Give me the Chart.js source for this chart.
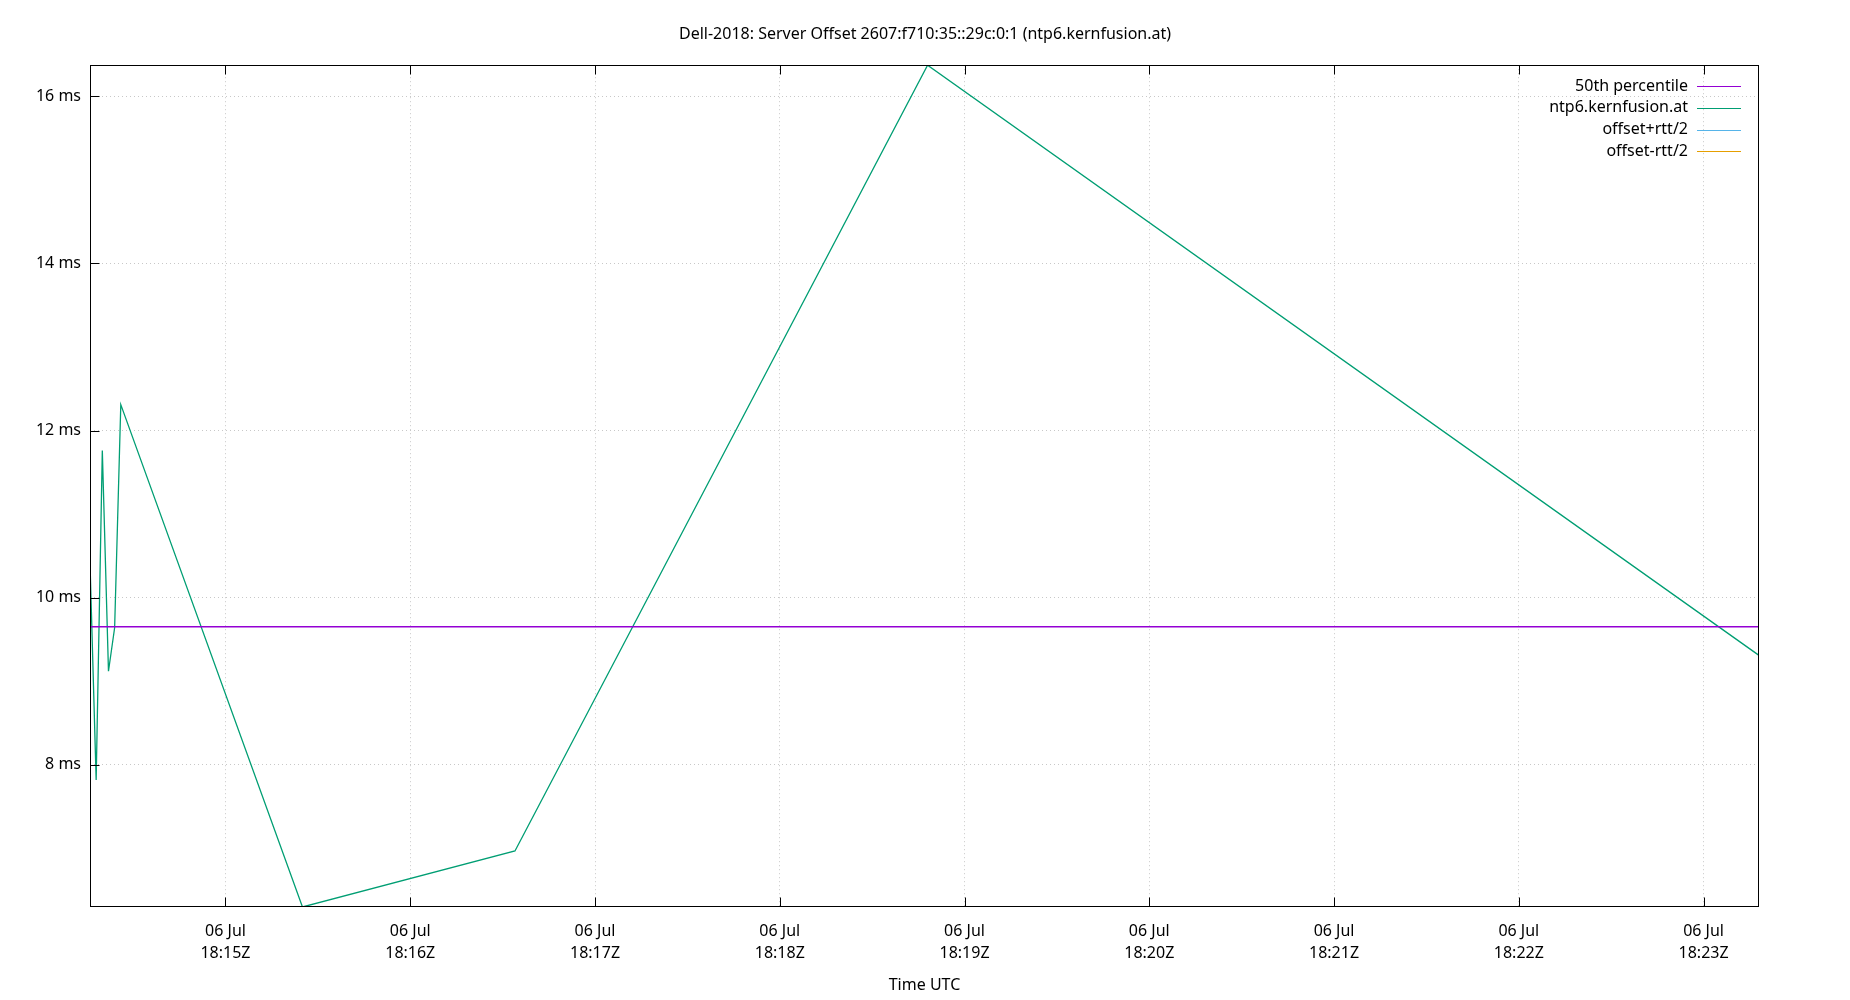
<!DOCTYPE html>
<html>
<head>
<meta charset="utf-8">
<title>Dell-2018: Server Offset</title>
<script src="https://cdn.jsdelivr.net/npm/chart.js@4/dist/chart.umd.min.js"></script>
<style>
  html, body { margin: 0; padding: 0; background: #fff; }
  #wrap { width: 1850px; height: 1000px; }
</style>
</head>
<body>
<div id="wrap"><canvas id="grafico"></canvas></div>
<script>
// ===== DATOS =====
const titulo = 'Dell-2018: Server Offset 2607:f710:35::29c:0:1 (ntp6.kernfusion.at)';

// muestras (hora UTC) y offset en ms
const horas = ['18:14:16', '18:14:18', '18:14:20', '18:14:22', '18:14:24', '18:14:26',
               '18:15:25', '18:16:34', '18:18:48', '18:23:18'];
const offsetMs = [10.42, 7.82, 11.76, 9.12, 9.64, 12.31, 6.30, 6.97, 16.37, 9.31];

const percentil50 = 9.653;

// series sin datos visibles (solo leyenda)
const offsetMasRtt = [];
const offsetMenosRtt = [];

// marcas de ejes
const xTicksHoras = ['18:15', '18:16', '18:17', '18:18', '18:19', '18:20', '18:21', '18:22', '18:23'];
const xTickFecha = '06 Jul';
const yTicks = [8, 10, 12, 14, 16];

const FUENTE = '"Noto Sans", "Open Sans", sans-serif';

function aSegundos(h) {
    const p = h.split(':').map(Number);
    return p[0] * 3600 + p[1] * 60 + (p[2] || 0);
}

const puntos = horas.map((h, i) => ({ x: aSegundos(h), y: offsetMs[i] }));
const xMin = puntos[0].x;
const xMax = puntos[puntos.length - 1].x;

// ===== PLUGIN: marco y marcas de eje (estilo gnuplot) =====
const marcoPlugin = {
    id: 'marco',
    afterDraw(chart) {
        const { ctx, chartArea: a, scales } = chart;
        const L = Math.round(a.left) + 0.5, R = Math.round(a.right) - 0.5;
        const T = Math.round(a.top) + 0.5, B = Math.round(a.bottom) - 0.5;
        ctx.save();
        ctx.strokeStyle = '#000';
        ctx.lineWidth = 1;
        ctx.beginPath();
        scales.x.ticks.forEach(t => {
            const px = Math.round(scales.x.getPixelForValue(t.value)) + 0.5;
            ctx.moveTo(px, B); ctx.lineTo(px, B - 9);
            ctx.moveTo(px, T); ctx.lineTo(px, T + 9);
        });
        scales.y.ticks.forEach(t => {
            const py = Math.round(scales.y.getPixelForValue(t.value)) + 0.5;
            ctx.moveTo(L, py); ctx.lineTo(L + 9, py);
        });
        ctx.stroke();
        ctx.strokeRect(L, T, R - L, B - T);
        ctx.restore();
    }
};

// ===== PLUGIN: leyenda arriba a la derecha =====
const leyendaPlugin = {
    id: 'leyenda',
    afterDraw(chart) {
        const { ctx, chartArea: a } = chart;
        ctx.save();
        ctx.font = '16px ' + FUENTE;
        ctx.textAlign = 'right';
        ctx.textBaseline = 'middle';
        chart.data.datasets.forEach((ds, i) => {
            const y = a.top + 21 + i * 21.7;
            ctx.fillStyle = '#000';
            ctx.fillText(ds.label, a.right - 71, y);
            ctx.strokeStyle = ds.borderColor;
            ctx.lineWidth = 1.2;
            ctx.beginPath();
            ctx.moveTo(a.right - 62, Math.round(y) + 0.5);
            ctx.lineTo(a.right - 18, Math.round(y) + 0.5);
            ctx.stroke();
        });
        ctx.restore();
    }
};

// ===== GRÁFICO =====
document.addEventListener('DOMContentLoaded', function () {
    const ctx = document.getElementById('grafico').getContext('2d');
    new Chart(ctx, {
        type: 'line',
        data: {
            datasets: [
                {
                    label: '50th percentile',
                    data: [{ x: xMin, y: percentil50 }, { x: xMax, y: percentil50 }],
                    borderColor: '#9400d3',
                    borderWidth: 1.6,
                    pointRadius: 0
                },
                {
                    label: 'ntp6.kernfusion.at',
                    data: puntos,
                    borderColor: '#009e73',
                    borderWidth: 1.3,
                    pointRadius: 0,
                    tension: 0
                },
                {
                    label: 'offset+rtt/2',
                    data: offsetMasRtt,
                    borderColor: '#56b4e9',
                    borderWidth: 1.3,
                    pointRadius: 0
                },
                {
                    label: 'offset-rtt/2',
                    data: offsetMenosRtt,
                    borderColor: '#e69f00',
                    borderWidth: 1.3,
                    pointRadius: 0
                }
            ]
        },
        options: {
            responsive: true,
            maintainAspectRatio: false,
            animation: false,
            layout: { padding: 0 },
            plugins: {
                legend: { display: false },
                tooltip: { enabled: false },
                title: {
                    display: true,
                    text: titulo,
                    color: '#000',
                    font: { family: FUENTE, size: 16, weight: 'normal', lineHeight: 1.2 },
                    padding: { top: 25, bottom: 21 }
                }
            },
            scales: {
                x: {
                    type: 'linear',
                    min: xMin,
                    max: xMax,
                    afterFit(scale) { scale.height = 93; },
                    afterBuildTicks(scale) {
                        scale.ticks = xTicksHoras.map(h => ({ value: aSegundos(h) }));
                    },
                    ticks: {
                        color: '#000',
                        padding: 14,
                        maxRotation: 0,
                        autoSkip: false,
                        font: { family: FUENTE, size: 16, lineHeight: 1.35 },
                        callback: function (value) {
                            const i = xTicksHoras.findIndex(h => aSegundos(h) === value);
                            return [xTickFecha, xTicksHoras[i] + 'Z'];
                        }
                    },
                    grid: { color: '#c8c8c8', lineWidth: 1, drawTicks: false },
                    border: { display: false, dash: [1, 3] },
                    title: {
                        display: true,
                        text: 'Time UTC',
                        color: '#000',
                        font: { family: FUENTE, size: 16, lineHeight: 1.2 },
                        padding: { top: 0, bottom: 5 }
                    }
                },
                y: {
                    type: 'linear',
                    min: Math.min(...offsetMs),
                    max: Math.max(...offsetMs),
                    afterFit(scale) { scale.width = 90; },
                    afterBuildTicks(scale) {
                        scale.ticks = yTicks.map(v => ({ value: v }));
                    },
                    ticks: {
                        color: '#000',
                        padding: 9,
                        font: { family: FUENTE, size: 16 },
                        callback: v => v + ' ms'
                    },
                    grid: { color: '#c8c8c8', lineWidth: 1, drawTicks: false },
                    border: { display: false, dash: [1, 3] }
                },
                // margen derecho vacío (mantiene el título centrado en todo el lienzo)
                yDerecha: {
                    type: 'linear',
                    position: 'right',
                    display: true,
                    afterFit(scale) { scale.width = 91; },
                    ticks: { display: false },
                    grid: { display: false, drawOnChartArea: false },
                    border: { display: false }
                }
            }
        },
        plugins: [marcoPlugin, leyendaPlugin]
    });
});
</script>
</body>
</html>
